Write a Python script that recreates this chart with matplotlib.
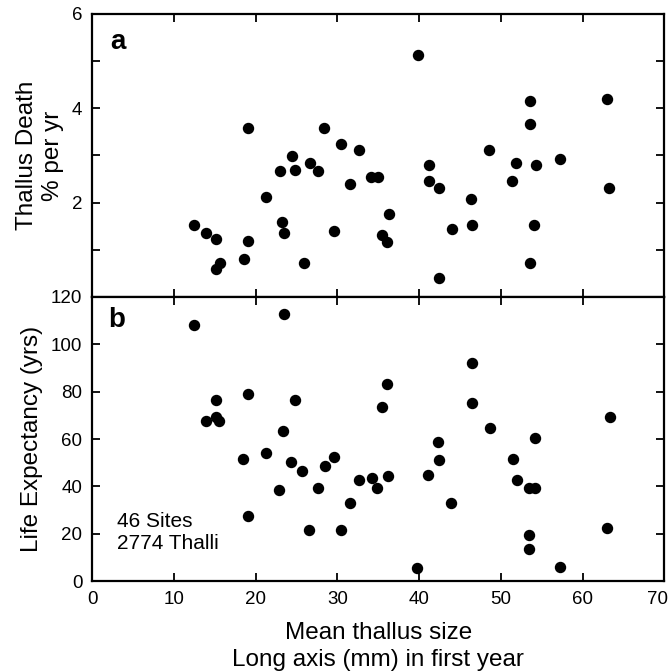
import matplotlib
matplotlib.use("Agg")
import matplotlib.pyplot as plt
import matplotlib.transforms as mtransforms

plt.rcParams['font.family'] = ['Liberation Sans', 'DejaVu Sans']

# panel a: thallus death (% per yr)
size_a = [12.5, 13.9, 15.2, 15.2, 15.7, 18.6, 19.1, 19.1, 21.3, 23.0, 23.2, 23.5,
          24.5, 24.8, 25.9, 26.7, 27.6, 28.4, 29.6, 30.5, 31.5, 32.6, 34.1, 35.0,
          35.5, 36.1, 36.3, 39.9, 41.2, 41.2, 42.4, 42.4, 44.0, 46.3, 46.5, 48.6,
          51.4, 51.9, 53.6, 53.6, 53.6, 54.1, 54.3, 57.3, 63.0, 63.2]
death = [1.53, 1.36, 1.22, 0.60, 0.73, 0.81, 3.58, 1.19, 2.12, 2.67, 1.60, 1.35,
         2.99, 2.70, 0.73, 2.83, 2.67, 3.58, 1.39, 3.25, 2.40, 3.11, 2.54, 2.54,
         1.31, 1.16, 1.75, 5.12, 2.80, 2.45, 2.30, 0.41, 1.44, 2.07, 1.53, 3.11,
         2.45, 2.83, 4.16, 3.67, 0.71, 1.53, 2.80, 2.92, 4.20, 2.30]

# panel b: life expectancy (yrs)
size_b = [12.5, 13.9, 15.1, 15.1, 15.5, 18.5, 19.1, 19.1, 21.3, 22.9, 23.4, 23.5,
          24.3, 24.8, 25.7, 26.5, 27.6, 28.5, 29.6, 30.5, 31.6, 32.6, 34.2, 34.8,
          35.5, 36.1, 36.2, 39.7, 41.1, 42.3, 42.4, 43.9, 46.5, 46.5, 48.7, 51.5,
          52.0, 53.5, 54.2, 54.2, 53.5, 53.5, 57.3, 63.0, 63.4]
life = [108.3, 67.6, 76.4, 69.1, 67.6, 51.4, 79.2, 27.5, 54.1, 38.5, 63.3, 112.9,
        50.2, 76.4, 46.4, 21.5, 39.3, 48.4, 52.6, 21.5, 33.1, 42.7, 43.4, 39.3,
        73.6, 83.1, 44.4, 5.4, 45.0, 58.6, 51.2, 33.1, 92.1, 75.4, 64.8, 51.4,
        42.5, 39.3, 39.3, 60.4, 19.4, 13.7, 5.9, 22.4, 69.1]

xticks = [0, 10, 20, 30, 40, 50, 60, 70]
yticks_a = [0, 1, 2, 3, 4, 5, 6]
ylabels_a = ['', '', '2', '', '4', '', '6']
yticks_b = [0, 20, 40, 60, 80, 100, 120]

fig = plt.figure(figsize=(6.71, 6.71), dpi=100)
ax1 = fig.add_axes([0.1374, 0.5574, 0.8525, 0.4218])
ax2 = fig.add_axes([0.1374, 0.1341, 0.8525, 0.4233])

for ax in (ax1, ax2):
    ax.set_xlim(0, 70)
    ax.set_xticks(xticks)
    ax.tick_params(direction='in', length=6, width=1.3, top=True, right=True,
                   labelsize=13.5, pad=7)
    for sp in ax.spines.values():
        sp.set_linewidth(1.6)

ax1.plot(size_a, death, 'o', color='black', markersize=7.2)
ax1.set_ylim(0, 6)
ax1.set_yticks(yticks_a)
ax1.set_yticklabels(ylabels_a)
ax1.tick_params(labelbottom=False)
ax1.set_ylabel("Thallus Death\n% per yr", fontsize=17.5, labelpad=6, linespacing=1.2)
ax1.text(3.2, 5.41, "a", fontsize=20, fontweight='bold', ha='center', va='center')

ax2.plot(size_b, life, 'o', color='black', markersize=7.2)
ax2.set_ylim(0, 120)
ax2.set_yticks(yticks_b)
ax2.set_ylabel("Life Expectancy (yrs)", fontsize=17.5, labelpad=6)
ax2.set_xlabel("Mean thallus size\nLong axis (mm) in first year", fontsize=17.5,
               labelpad=10, linespacing=1.3)
ax2.text(3.05, 110.2, "b", fontsize=20, fontweight='bold', ha='center', va='center')
ax2.text(3.0, 20.5, "46 Sites\n2774 Thalli", fontsize=15, ha='left', va='center',
         linespacing=1.25)

# keep the "70" label inside the figure, as in the original
last = ax2.get_xticklabels()[-1]
last.set_transform(last.get_transform() +
                   mtransforms.ScaledTranslation(-0.07, 0, fig.dpi_scale_trans))

fig.savefig("out.png", dpi=100)
